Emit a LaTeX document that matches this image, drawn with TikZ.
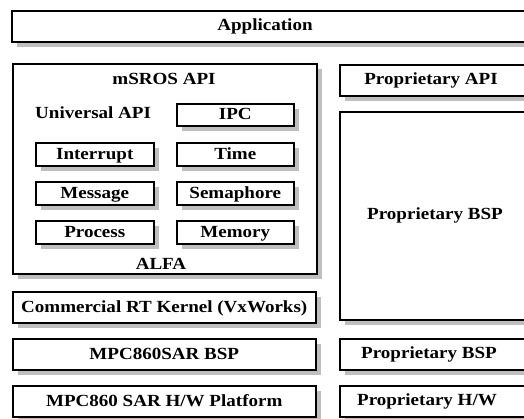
\documentclass[tikz,border=0pt]{standalone}
\usepackage{fontspec}
\setmainfont{Liberation Serif}[FakeStretch=1.12]
\usetikzlibrary{shadows}
\begin{document}
\begin{tikzpicture}[x=1pt,y=-1pt,
  txt/.style={inner sep=0pt, text height=11pt, text depth=1pt, font=\fontsize{17}{19}\selectfont\bfseries},
  blk/.style={draw=black, line width=1.5pt, fill=white, inner sep=0pt, anchor=north west,
    txt, drop shadow={shadow xshift=5pt, shadow yshift=-5pt, fill=black!25, opacity=1}}]
\useasboundingbox (0,0) rectangle (524,418);

% application layer
\node[blk, minimum width=519pt, minimum height=31pt] (app) at (11,10) {};
\node[txt] (appl) at (265,25) {Application};

% mSROS / ALFA container
\node[blk, minimum width=304pt, minimum height=210pt] (msros) at (12,63) {};
\node[txt] (msrosl) at (164,79) {mSROS API};
\node[txt, anchor=west] (univ) at (35,113) {Universal API};
\node[txt] (alfa) at (161,264) {ALFA};

% service modules
\node[blk, minimum width=117pt, minimum height=22pt] (ipc) at (176,103) {IPC};
\node[blk, minimum width=118pt, minimum height=23pt] (intr) at (35,142) {Interrupt};
\node[blk, minimum width=117pt, minimum height=23pt] (time) at (176,142) {Time};
\node[blk, minimum width=118pt, minimum height=23pt] (msg) at (35,181) {Message};
\node[blk, minimum width=117pt, minimum height=23pt] (sem) at (176,181) {Semaphore};
\node[blk, minimum width=118pt, minimum height=23pt] (proc) at (35,220) {Process};
\node[blk, minimum width=117pt, minimum height=23pt] (mem) at (176,220) {Memory};

% left stack
\node[blk, minimum width=303pt, minimum height=31pt] (kernel) at (12,291) {Commercial RT Kernel (VxWorks)};
\node[blk, minimum width=303pt, minimum height=31pt] (bsp) at (12,338) {MPC860SAR BSP};
\node[blk, minimum width=303pt, minimum height=31pt] (hw) at (12,385) {MPC860 SAR H/W Platform};

% right stack
\node[blk, minimum width=190pt, minimum height=31pt] (papi) at (339,64) {};
\node[txt] (papil) at (431,79) {Proprietary API};
\node[blk, minimum width=190pt, minimum height=208pt] (pbspbig) at (339,111) {};
\node[txt] (pbspbigl) at (435,214) {Proprietary BSP};
\node[blk, minimum width=190pt, minimum height=31pt] (pbsp) at (339,338) {};
\node[txt] (pbspl) at (429,353) {Proprietary BSP};
\node[blk, minimum width=190pt, minimum height=31pt] (phw) at (339,385) {};
\node[txt] (phwl) at (427,400) {Proprietary H/W};
\end{tikzpicture}
\end{document}
